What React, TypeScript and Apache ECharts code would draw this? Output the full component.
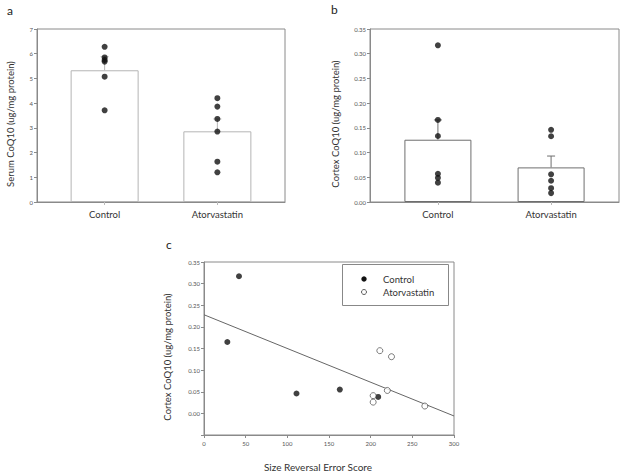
import React, { useEffect, useRef } from "react";
import * as echarts from "echarts";

const categories = ["Control", "Atorvastatin"];
const serumMeans = [5.33, 2.86];
const serumErrTop = [5.88, 3.36];
const serumControl = [6.28, 5.85, 5.75, 5.68, 5.07, 3.71];
const serumAtorva = [4.2, 3.86, 3.36, 2.85, 1.63, 1.2];
const cortexMeans = [0.126, 0.07];
const cortexErrTop = [0.166, 0.093];
const cortexControl = [0.317, 0.166, 0.1335, 0.057, 0.049, 0.039];
const cortexAtorva = [0.146, 0.133, 0.056, 0.043, 0.028, 0.018];
const scoreControl = [28, 42, 111, 163, 209];
const cortexByScoreControl = [0.165, 0.317, 0.046, 0.055, 0.038];
const scoreAtorva = [211, 225, 220, 203, 203, 265];
const cortexByScoreAtorva = [0.145, 0.131, 0.053, 0.041, 0.026, 0.017];
const fitX = [0, 300];
const fitY = [0.228, -0.006];

const FONT = "Lato";
const AXIS = "#8a8a8a";
const LABEL = "#555";

function errRender(color: string) {
  return (params: any, api: any) => {
    const x = api.value(0);
    const m = api.value(1);
    const e = api.value(2);
    const p0 = api.coord([x, m]);
    const p1 = api.coord([x, e]);
    const style = { stroke: color, lineWidth: 1 };
    return {
      type: "group",
      children: [
        { type: "line", shape: { x1: p0[0], y1: p0[1], x2: p1[0], y2: p1[1] }, style },
        { type: "line", shape: { x1: p1[0] - 4, y1: p1[1], x2: p1[0] + 4, y2: p1[1] }, style },
      ],
    };
  };
}

function catXAxis(gridIndex: number) {
  return {
    type: "value",
    gridIndex,
    min: -0.6,
    max: 1.6,
    splitLine: { show: false },
    axisLine: { show: true, onZero: false, lineStyle: { color: AXIS } },
    axisTick: { show: true, customValues: [0, 1], length: 3, lineStyle: { color: "#bbb" } },
    axisLabel: {
      customValues: [0, 1],
      formatter: (v: number) => categories[Math.round(v)] ?? "",
      fontFamily: FONT,
      fontSize: 9.5,
      color: "#333",
      margin: 7,
    },
  };
}

function valYAxis(gridIndex: number, min: number, max: number, interval: number, digits: number) {
  return {
    type: "value",
    gridIndex,
    min,
    max,
    interval,
    splitLine: { show: false },
    axisLine: { show: true, onZero: false, lineStyle: { color: AXIS } },
    axisTick: { show: true, length: 3, lineStyle: { color: AXIS } },
    axisLabel: {
      formatter: (v: number) => (v < -1e-9 ? "" : v.toFixed(digits)),
      fontFamily: FONT,
      fontSize: 6,
      color: LABEL,
      margin: 4,
    },
  };
}

export default function App() {
  const ref = useRef<HTMLDivElement>(null);
  useEffect(() => {
    if (!ref.current) return;
    const chart = echarts.init(ref.current, undefined, { renderer: "svg" });
    const dot = { color: "#111" };
    const option: any = {
      animation: false,
      backgroundColor: "#fff",
      grid: [
        { left: 37, top: 29, width: 248, height: 173, show: true, borderColor: AXIS, borderWidth: 1, backgroundColor: "transparent" },
        { left: 370, top: 29, width: 249, height: 173, show: true, borderColor: AXIS, borderWidth: 1, backgroundColor: "transparent" },
        { left: 204, top: 262, width: 250, height: 173, show: true, borderColor: AXIS, borderWidth: 1, backgroundColor: "transparent" },
      ],
      xAxis: [
        catXAxis(0),
        catXAxis(1),
        {
          type: "value",
          gridIndex: 2,
          min: 0,
          max: 300,
          interval: 50,
          splitLine: { show: false },
          axisLine: { show: true, onZero: false, lineStyle: { color: AXIS } },
          axisTick: { show: true, length: 3, lineStyle: { color: AXIS } },
          axisLabel: { fontFamily: FONT, fontSize: 6, color: LABEL, margin: 5 },
        },
      ],
      yAxis: [
        valYAxis(0, 0, 7, 1, 0),
        valYAxis(1, 0, 0.35, 0.05, 2),
        valYAxis(2, -0.05, 0.35, 0.05, 2),
      ],
      series: [
        {
          type: "bar",
          name: "Serum mean",
          xAxisIndex: 0,
          yAxisIndex: 0,
          barWidth: 68,
          z: 2,
          itemStyle: { color: "#fff", borderColor: "#b5b5b5", borderWidth: 1 },
          data: serumMeans.map((v, i) => [i, v]),
        },
        {
          type: "custom",
          name: "Serum error",
          xAxisIndex: 0,
          yAxisIndex: 0,
          z: 3,
          renderItem: errRender("#b5b5b5"),
          data: serumMeans.map((v, i) => [i, v, serumErrTop[i]]),
        },
        {
          type: "scatter",
          name: "Serum Control",
          xAxisIndex: 0,
          yAxisIndex: 0,
          z: 4,
          symbolSize: 6,
          itemStyle: dot,
          data: serumControl.map((v) => [0, v]),
        },
        {
          type: "scatter",
          name: "Serum Atorvastatin",
          xAxisIndex: 0,
          yAxisIndex: 0,
          z: 4,
          symbolSize: 6,
          itemStyle: dot,
          data: serumAtorva.map((v) => [1, v]),
        },
        {
          type: "bar",
          name: "Cortex mean",
          xAxisIndex: 1,
          yAxisIndex: 1,
          barWidth: 67,
          z: 2,
          itemStyle: { color: "#fff", borderColor: "#6e6e6e", borderWidth: 1 },
          data: cortexMeans.map((v, i) => [i, v]),
        },
        {
          type: "custom",
          name: "Cortex error",
          xAxisIndex: 1,
          yAxisIndex: 1,
          z: 3,
          renderItem: errRender("#6e6e6e"),
          data: cortexMeans.map((v, i) => [i, v, cortexErrTop[i]]),
        },
        {
          type: "scatter",
          name: "Cortex Control",
          xAxisIndex: 1,
          yAxisIndex: 1,
          z: 4,
          symbolSize: 6,
          itemStyle: dot,
          data: cortexControl.map((v) => [0, v]),
        },
        {
          type: "scatter",
          name: "Cortex Atorvastatin",
          xAxisIndex: 1,
          yAxisIndex: 1,
          z: 4,
          symbolSize: 6,
          itemStyle: dot,
          data: cortexAtorva.map((v) => [1, v]),
        },
        {
          type: "line",
          name: "Fit",
          xAxisIndex: 2,
          yAxisIndex: 2,
          z: 2,
          symbol: "none",
          lineStyle: { color: "#666", width: 1 },
          data: fitX.map((x, i) => [x, fitY[i]]),
        },
        {
          type: "scatter",
          name: "Control",
          xAxisIndex: 2,
          yAxisIndex: 2,
          z: 4,
          symbolSize: 6,
          itemStyle: dot,
          data: scoreControl.map((x, i) => [x, cortexByScoreControl[i]]),
        },
        {
          type: "scatter",
          name: "Atorvastatin",
          xAxisIndex: 2,
          yAxisIndex: 2,
          z: 4,
          symbolSize: 6,
          itemStyle: { color: "#fff", borderColor: "#333", borderWidth: 0.8 },
          data: scoreAtorva.map((x, i) => [x, cortexByScoreAtorva[i]]),
        },
      ],
      graphic: [
        { type: "text", left: 7, top: 4, style: { text: "a", fontFamily: FONT, fontSize: 12, fill: "#222" } },
        { type: "text", left: 331, top: 3, style: { text: "b", fontFamily: FONT, fontSize: 12, fill: "#222" } },
        { type: "text", left: 166, top: 238, style: { text: "c", fontFamily: FONT, fontSize: 12, fill: "#222" } },
        {
          type: "text",
          x: 10,
          y: 124,
          rotation: Math.PI / 2,
          style: { text: "Serum CoQ10 (ug/mg protein)", fontFamily: FONT, fontSize: 9.5, fill: "#333", align: "center", verticalAlign: "middle" },
        },
        {
          type: "text",
          x: 335,
          y: 124,
          rotation: Math.PI / 2,
          style: { text: "Cortex CoQ10 (ug/mg protein)", fontFamily: FONT, fontSize: 9.5, fill: "#333", align: "center", verticalAlign: "middle" },
        },
        {
          type: "text",
          x: 167,
          y: 357,
          rotation: Math.PI / 2,
          style: { text: "Cortex CoQ10 (ug/mg protein)", fontFamily: FONT, fontSize: 9.5, fill: "#333", align: "center", verticalAlign: "middle" },
        },
        {
          type: "text",
          x: 318,
          y: 467,
          style: { text: "Size Reversal Error Score", fontFamily: FONT, fontSize: 10, fill: "#333", align: "center", verticalAlign: "middle" },
        },
        {
          type: "rect",
          shape: { x: 342.5, y: 264.5, width: 106, height: 41 },
          style: { fill: "#fff", stroke: "#888", lineWidth: 1 },
          z: 10,
        },
        { type: "circle", shape: { cx: 364, cy: 279, r: 2.7 }, style: { fill: "#111" }, z: 11 },
        { type: "circle", shape: { cx: 364, cy: 292, r: 2.5 }, style: { fill: "#fff", stroke: "#333", lineWidth: 0.8 }, z: 11 },
        {
          type: "text",
          x: 383,
          y: 279,
          z: 11,
          style: { text: "Control", fontFamily: FONT, fontSize: 9.5, fill: "#333", verticalAlign: "middle" },
        },
        {
          type: "text",
          x: 383,
          y: 292,
          z: 11,
          style: { text: "Atorvastatin", fontFamily: FONT, fontSize: 9.5, fill: "#333", verticalAlign: "middle" },
        },
      ],
    };
    chart.setOption(option);
    return () => chart.dispose();
  }, []);
  return (
    <div
      ref={ref}
      style={{ position: "absolute", left: 0, top: 0, width: 625, height: 475 }}
    />
  );
}
